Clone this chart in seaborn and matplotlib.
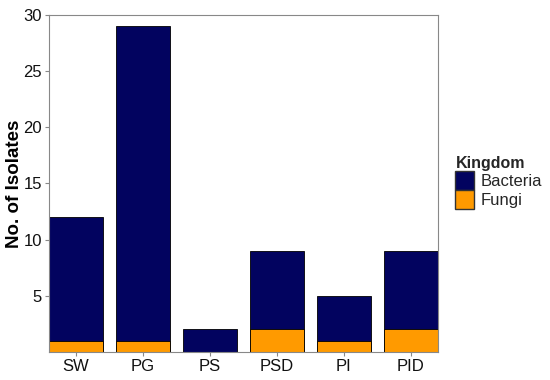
import matplotlib
matplotlib.use("Agg")
import matplotlib.pyplot as plt
import matplotlib.patches as mpatches
import pandas as pd
import seaborn as sns

# Data
sites = ["SW", "PG", "PS", "PSD", "PI", "PID"]
bacteria = [11, 28, 2, 7, 4, 7]
fungi = [1, 1, 0, 2, 1, 2]

navy = "#02035f"
orange = "#ff9a00"

df = pd.DataFrame({"site": sites, "Bacteria": bacteria, "Fungi": fungi})
df["total"] = df["Bacteria"] + df["Fungi"]

sns.set_style("white")
plt.rcParams["font.family"] = ["Liberation Sans", "DejaVu Sans"]

fig = plt.figure(figsize=(5.5, 3.8), dpi=100)
ax = fig.add_axes([0.089, 0.074, 0.707, 0.887])

# stacked: total bar in navy, fungi part overdrawn in orange
sns.barplot(data=df, x="site", y="total", color=navy, width=0.8,
            edgecolor="black", linewidth=0.6, saturation=1, ax=ax)
sns.barplot(data=df[df["Fungi"] > 0], x="site", y="Fungi", order=sites,
            color=orange, width=0.8, edgecolor="black", linewidth=0.6,
            saturation=1, ax=ax)

ax.set_xlim(-0.4, 5.4)
ax.set_ylim(0, 30)
ax.set_yticks([5, 10, 15, 20, 25, 30])
ax.set_xlabel("")
ax.set_ylabel("No. of Isolates", fontsize=13.5, fontweight="bold", color="black")
ax.yaxis.set_label_coords(-0.068, 0.5)
ax.tick_params(axis="both", labelsize=12, length=3, width=0.8, pad=2,
               direction="out", bottom=True, left=True,
               colors="#888888", labelcolor="#111111")
for s in ax.spines.values():
    s.set_color("#888888")
    s.set_linewidth(0.8)

handles = [mpatches.Patch(facecolor=navy, edgecolor="#333333", label="Bacteria"),
           mpatches.Patch(facecolor=orange, edgecolor="#333333", label="Fungi")]
leg = fig.legend(handles=handles, title="Kingdom", loc="upper left",
                 bbox_to_anchor=(0.816, 0.608), frameon=False, fontsize=12,
                 title_fontproperties={"weight": "bold", "size": 11.5},
                 handlelength=1.1, handleheight=1.3, handletextpad=0.4,
                 labelspacing=0.05, borderaxespad=0)
leg._legend_box.align = "left"

fig.savefig("out.png", dpi=100)
